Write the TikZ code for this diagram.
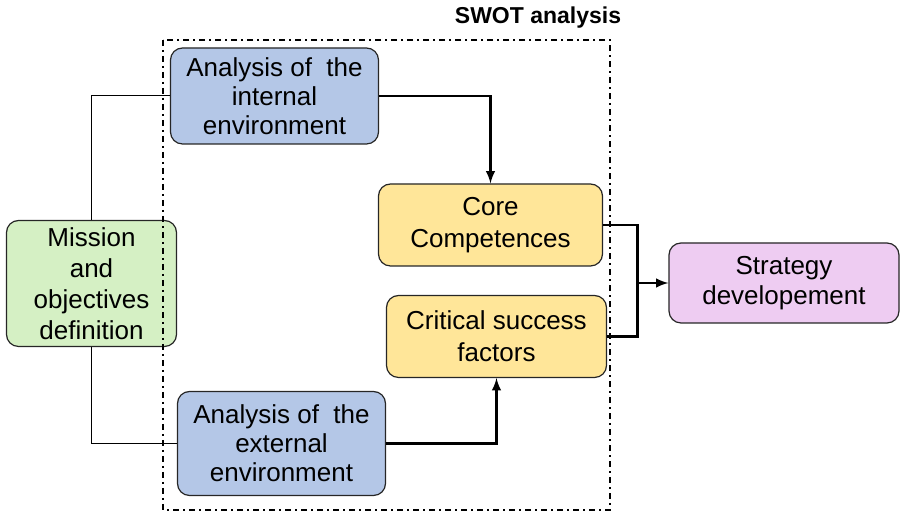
\documentclass[tikz,border=0pt]{standalone}
\usepackage{fontspec}
\setmainfont{Liberation Sans}
\usepackage{xcolor}
\usepackage{tikz}
\definecolor{envblue}{HTML}{B4C7E7}
\definecolor{swotyellow}{HTML}{FFE699}
\definecolor{missgreen}{HTML}{D5F0C4}
\definecolor{stratpurple}{HTML}{EECCF2}
\tikzset{box/.style={draw=black!85, line width=0.6pt, rounded corners=6pt, align=center, inner sep=2pt, font=\fontsize{13}{14.5}\selectfont}}
\tikzset{thinline/.style={line width=0.5pt}}
\tikzset{thickline/.style={line width=1.1pt, -latex}}

\begin{document}
\begin{tikzpicture}[x=0.5pt,y=-0.5pt]
    \useasboundingbox (0,0) rectangle (907,522);

    \coordinate (M) at (91.5, 283.5);
    \coordinate (I) at (274.5, 96);
    \coordinate (E) at (281.5, 443.5);
    \coordinate (C) at (490.5, 225);
    \coordinate (K) at (496.5, 336.5);
    \coordinate (S) at (784, 283);
    \coordinate (T) at (538, 18);

    \node[box, fill=missgreen, minimum width=85pt, minimum height=63pt,
        font=\fontsize{13}{15.5}\selectfont] (mission) at (M)
        {Mission\\and\\objectives\\definition};
    \node[box, fill=envblue, minimum width=104pt, minimum height=48pt] (intern) at (I)
        {Analysis of\ \ the\\internal\\environment};
    \node[box, fill=envblue, minimum width=104pt, minimum height=52pt] (extern) at (E)
        {Analysis of\ \ the\\external\\environment};
    \node[box, fill=swotyellow, minimum width=112pt, minimum height=41pt,
        font=\fontsize{13}{16}\selectfont] (core) at (C)
        {Core\\Competences};
    \node[box, fill=swotyellow, minimum width=110pt, minimum height=41pt,
        font=\fontsize{13}{16}\selectfont] (csf) at (K)
        {Critical success\\factors};
    \node[box, fill=stratpurple, minimum width=115pt, minimum height=40pt,
        font=\fontsize{13}{15}\selectfont] (strat) at (S)
        {Strategy\\developement};

    % mission to both analyses
    \draw[thinline] (mission.north) |- (intern.west);
    \draw[thinline] (mission.south) |- (extern.west);

    \draw[thickline] (intern.east) -| (core.north);
    \draw[thickline] (extern.east) -| (csf.south);

    \coordinate (J) at (637.5, 283);
    \draw[line width=1.1pt] (core.east) -| (J);
    \draw[line width=1.1pt] (csf.east) -| (J);
    \draw[thickline] (J) -- (strat.west);

    % swot frame
    \draw[line width=0.75pt, dash pattern=on 3pt off 2pt on 1pt off 2pt]
        (163,40) rectangle (610,510);
    \node[font=\bfseries\fontsize{11.5}{14}\selectfont] (title) at (T) {SWOT analysis};
\end{tikzpicture}
\end{document}
